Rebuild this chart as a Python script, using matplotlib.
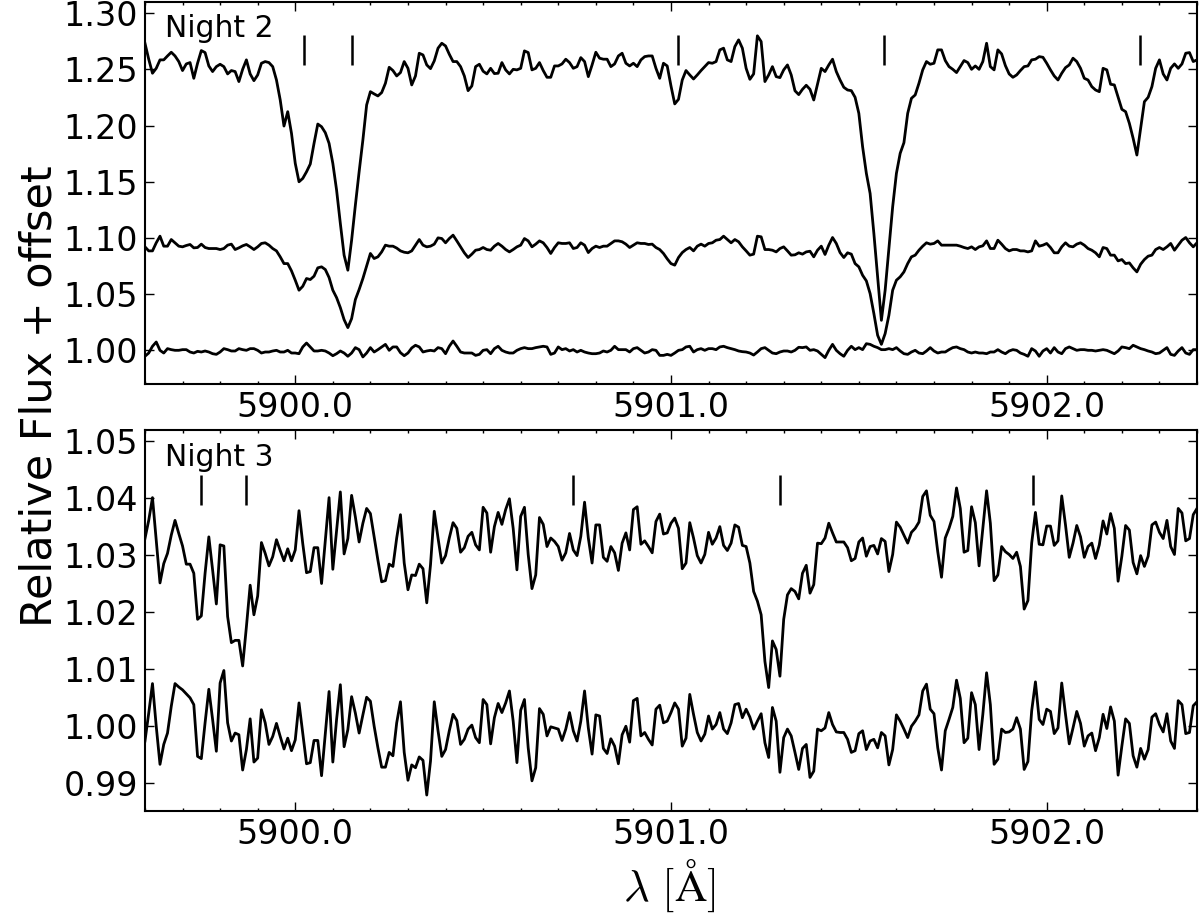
import numpy as np
import matplotlib
matplotlib.use('Agg')
import matplotlib.pyplot as plt
from matplotlib.ticker import MultipleLocator, FormatStrFormatter

plt.rcParams['mathtext.fontset'] = 'cm'
plt.rcParams['font.family'] = ['DejaVu Sans']

# wavelength grid (0.01 A per pixel)
wl = np.linspace(5899.60, 5902.40, 281)

# Night 2: observed spectrum (offset), second spectrum (offset), residual
n2_top = [
    1.2733, 1.2591, 1.2466, 1.2510, 1.2585, 1.2585, 1.2620, 1.2653, 1.2620, 1.2570,
    1.2490, 1.2549, 1.2561, 1.2421, 1.2555, 1.2668, 1.2650, 1.2531, 1.2481, 1.2525,
    1.2546, 1.2525, 1.2460, 1.2490, 1.2481, 1.2392, 1.2501, 1.2585, 1.2460, 1.2400,
    1.2451, 1.2555, 1.2570, 1.2561, 1.2525, 1.2406, 1.2228, 1.1996, 1.2124, 1.1931,
    1.1664, 1.1500, 1.1530, 1.1589, 1.1658, 1.1842, 1.2014, 1.1990, 1.1937, 1.1842,
    1.1664, 1.1426, 1.1129, 1.0847, 1.0713, 1.0980, 1.1292, 1.1589, 1.1872, 1.2184,
    1.2302, 1.2282, 1.2264, 1.2294, 1.2377, 1.2519, 1.2490,
    1.2442, 1.2472, 1.2570,
    1.2510, 1.2362, 1.2442, 1.2644, 1.2629, 1.2540, 1.2507, 1.2576, 1.2689, 1.2733,
    1.2709, 1.2635, 1.2570, 1.2570, 1.2525, 1.2442, 1.2311, 1.2353, 1.2525, 1.2546,
    1.2484, 1.2460, 1.2510, 1.2463, 1.2466, 1.2561, 1.2496, 1.2460, 1.2501, 1.2496,
    1.2510, 1.2665, 1.2650, 1.2496, 1.2510, 1.2561, 1.2490, 1.2430, 1.2430, 1.2531,
    1.2531, 1.2549, 1.2591, 1.2561, 1.2510, 1.2525, 1.2605, 1.2570, 1.2436, 1.2540,
    1.2653, 1.2600, 1.2591, 1.2591, 1.2525, 1.2549, 1.2620, 1.2644, 1.2555, 1.2531,
    1.2555, 1.2525, 1.2585, 1.2614, 1.2620, 1.2620, 1.2510, 1.2421, 1.2555, 1.2531,
    1.2353, 1.2193, 1.2234, 1.2406, 1.2490, 1.2451, 1.2415, 1.2451, 1.2490, 1.2525,
    1.2561, 1.2555, 1.2570, 1.2674, 1.2689, 1.2585, 1.2570, 1.2703, 1.2763, 1.2689,
    1.2510, 1.2412, 1.2460, 1.2799, 1.2748, 1.2392, 1.2451, 1.2525, 1.2436, 1.2427,
    1.2496, 1.2540, 1.2451,
    1.2310, 1.2276,
    1.2323, 1.2359, 1.2323, 1.2228, 1.2371,
    1.2510, 1.2481, 1.2540, 1.2591, 1.2481, 1.2406, 1.2341, 1.2317, 1.2311, 1.2252,
    1.2109, 1.1812, 1.1575, 1.1396, 1.1040, 1.0654, 1.0267, 1.0535, 1.0906, 1.1277,
    1.1575, 1.1753, 1.1848, 1.2109, 1.2243, 1.2273, 1.2377, 1.2496, 1.2570, 1.2546,
    1.2555, 1.2674, 1.2674, 1.2579, 1.2525, 1.2501, 1.2472, 1.2525, 1.2579, 1.2561,
    1.2501, 1.2531, 1.2501, 1.2570, 1.2733, 1.2525, 1.2496, 1.2674, 1.2638, 1.2534,
    1.2460, 1.2430, 1.2451, 1.2490, 1.2525, 1.2531, 1.2585, 1.2591, 1.2614, 1.2608,
    1.2555, 1.2496, 1.2442, 1.2406, 1.2466, 1.2516, 1.2540, 1.2600, 1.2570, 1.2510,
    1.2421, 1.2406, 1.2347, 1.2317, 1.2302, 1.2510, 1.2496, 1.2368, 1.2362, 1.2252,
    1.2145, 1.2124, 1.2020, 1.1887, 1.1738, 1.1976, 1.2213, 1.2252, 1.2347, 1.2510,
    1.2585, 1.2460, 1.2406, 1.2510, 1.2549, 1.2510, 1.2549, 1.2644, 1.2650, 1.2570, 1.2585,
]

n2_mid = [
    1.0921, 1.0885, 1.0885, 1.0957, 1.1016, 1.0927, 1.0927, 1.0986, 1.0957, 1.0927,
    1.0921, 1.0933, 1.0942, 1.0912, 1.0915, 1.0945, 1.0915, 1.0906, 1.0906, 1.0906,
    1.0897, 1.0906, 1.0936, 1.0945, 1.0897, 1.0912, 1.0930, 1.0942, 1.0921, 1.0897,
    1.0921, 1.0951, 1.0957, 1.0936, 1.0906, 1.0885, 1.0832, 1.0772, 1.0772, 1.0707,
    1.0624, 1.0535, 1.0570, 1.0639, 1.0630, 1.0660, 1.0734, 1.0743, 1.0719, 1.0648,
    1.0535, 1.0469, 1.0380, 1.0273, 1.0202, 1.0282, 1.0452, 1.0541, 1.0639, 1.0749,
    1.0862, 1.0817, 1.0832, 1.0876, 1.0936, 1.0927, 1.0927,
    1.0910, 1.0885, 1.0873,
    1.0868, 1.0885, 1.0936, 1.0986, 1.0936, 1.0921, 1.0927, 1.0945, 1.1001, 1.0995,
    1.0957, 1.0995, 1.1025, 1.0974, 1.0921, 1.0868, 1.0826, 1.0856, 1.0891, 1.0897,
    1.0915, 1.0897, 1.0891, 1.0927, 1.0951, 1.0927, 1.0897, 1.0876, 1.0897, 1.0921,
    1.0936, 1.0995, 1.0974, 1.0921, 1.0945, 1.0974, 1.0957, 1.0915, 1.0862, 1.0915,
    1.0957, 1.0951, 1.0951, 1.0957, 1.0906, 1.0915, 1.0957, 1.0936, 1.0870, 1.0906,
    1.0927, 1.0915, 1.0927, 1.0927, 1.0951, 1.0974, 1.0974, 1.0966, 1.0945, 1.0915,
    1.0936, 1.0957, 1.0951, 1.0951, 1.0942, 1.0945, 1.0915, 1.0897, 1.0862, 1.0814,
    1.0772, 1.0758, 1.0826, 1.0870, 1.0897, 1.0915, 1.0885, 1.0927, 1.0945, 1.0927,
    1.0951, 1.0957, 1.0980, 1.0986, 1.1016, 1.0986, 1.0957, 1.0986, 1.0966, 1.0921,
    1.0885, 1.0847, 1.0856, 1.1016, 1.1010, 1.0897, 1.0897, 1.0891, 1.0876, 1.0906,
    1.0921, 1.0885, 1.0847,
    1.0850, 1.0868,
    1.0856, 1.0876, 1.0882, 1.0832, 1.0891,
    1.0927, 1.0853, 1.0936, 1.1004, 1.0951, 1.0870, 1.0826, 1.0868, 1.0856, 1.0772,
    1.0743, 1.0668, 1.0618, 1.0505, 1.0327, 1.0134, 1.0053, 1.0149, 1.0312, 1.0535,
    1.0624, 1.0654, 1.0698, 1.0772, 1.0832, 1.0847, 1.0891, 1.0927, 1.0957, 1.0945,
    1.0951, 1.0974, 1.0936, 1.0936, 1.0936, 1.0936, 1.0936, 1.0927, 1.0915, 1.0906,
    1.0921, 1.0897, 1.0921, 1.0930, 1.0974, 1.0906, 1.0906, 1.0980, 1.0945, 1.0906,
    1.0885, 1.0897, 1.0897, 1.0885, 1.0885, 1.0876, 1.0885, 1.0974, 1.0927, 1.0936,
    1.0951, 1.0915, 1.0868, 1.0868, 1.0921, 1.0957, 1.0927, 1.0921, 1.0945, 1.0957,
    1.0936, 1.0906, 1.0891, 1.0868, 1.0832, 1.0915, 1.0906, 1.0847, 1.0847, 1.0796,
    1.0808, 1.0772, 1.0778, 1.0734, 1.0698, 1.0766, 1.0808, 1.0838, 1.0847, 1.0897,
    1.0915, 1.0897, 1.0921, 1.0951, 1.0891, 1.0936, 1.0980, 1.1004, 1.0957, 1.0921, 1.0957,
]

n2_res = [
    0.9947, 0.9976, 1.0036, 1.0074, 1.0000, 0.9976, 1.0015, 1.0006, 1.0000, 1.0000,
    1.0006, 1.0006, 0.9985, 0.9976, 0.9991, 0.9985, 0.9994, 0.9985, 0.9970, 0.9964,
    0.9985, 1.0015, 1.0006, 0.9994, 0.9994, 1.0015, 1.0006, 1.0000, 1.0015, 1.0015,
    1.0000, 0.9976, 0.9985, 0.9985, 0.9994, 1.0000, 0.9985, 0.9985, 1.0000, 0.9976,
    0.9976, 0.9970, 1.0030, 1.0065, 1.0030, 0.9994, 0.9994, 1.0000, 0.9994, 0.9976,
    0.9952, 0.9970, 0.9994, 0.9976, 0.9947, 0.9976, 1.0024, 1.0006, 0.9941, 0.9976,
    1.0024, 0.9985, 1.0006, 1.0030, 1.0053, 1.0000, 1.0030,
    1.0030, 0.9979, 0.9952,
    0.9976, 1.0021, 1.0045, 1.0030, 0.9985, 0.9994, 1.0000, 0.9994, 1.0024, 1.0015,
    0.9970, 1.0036, 1.0083, 1.0036, 0.9985, 0.9976, 0.9976, 0.9976, 0.9955, 0.9964,
    1.0000, 1.0006, 0.9970, 1.0015, 1.0036, 1.0000, 0.9985, 0.9976, 0.9976, 1.0000,
    1.0015, 1.0024, 1.0015, 1.0015, 1.0024, 1.0030, 1.0036, 1.0030, 0.9964, 0.9976,
    1.0030, 1.0006, 1.0015, 0.9994, 1.0006, 0.9985, 1.0000, 0.9985, 0.9976, 0.9970,
    0.9970, 0.9976, 0.9994, 0.9985, 1.0000, 1.0036, 1.0006, 1.0006, 1.0006, 0.9985,
    1.0015, 1.0024, 1.0000, 0.9976, 0.9985, 1.0006, 1.0000, 0.9955, 0.9955, 0.9964,
    0.9955, 0.9976, 1.0000, 1.0006, 1.0030, 1.0036, 0.9985, 1.0006, 1.0015, 1.0000,
    1.0015, 1.0015, 1.0006, 1.0030, 1.0036, 1.0024, 1.0015, 1.0006, 0.9994, 0.9988,
    0.9985, 0.9976, 0.9958, 0.9985, 1.0015, 1.0024, 1.0000, 0.9976, 0.9970, 0.9985,
    0.9994, 0.9994, 0.9985,
    1.0000, 1.0027,
    1.0024, 1.0030, 1.0000, 1.0006, 0.9994,
    0.9964, 0.9935, 1.0000, 1.0053, 1.0000, 0.9970, 0.9947, 1.0000, 1.0036, 1.0006,
    1.0024, 1.0006, 1.0059, 1.0053, 1.0036, 1.0024, 1.0006, 1.0006, 1.0015, 1.0006,
    1.0024, 0.9994, 0.9970, 0.9964, 0.9985, 1.0000, 0.9976, 0.9970, 0.9994, 1.0024,
    0.9994, 0.9976, 0.9985, 0.9985, 1.0006, 1.0024, 1.0030, 1.0015, 1.0006, 0.9985,
    0.9976, 0.9985, 0.9976, 0.9976, 0.9970, 0.9985, 0.9985, 1.0006, 0.9985, 0.9970,
    0.9994, 1.0006, 1.0000, 0.9976, 0.9964, 0.9947, 1.0015, 0.9994, 0.9947, 0.9994,
    1.0015, 0.9976, 1.0024, 0.9985, 0.9970, 1.0015, 1.0030, 1.0015, 1.0000, 1.0006,
    1.0006, 1.0000, 1.0000, 0.9994, 1.0000, 1.0006, 1.0000, 0.9985, 0.9970, 0.9994,
    1.0030, 1.0024, 1.0015, 1.0045, 1.0030, 1.0015, 1.0006, 0.9994, 0.9985, 0.9970,
    0.9976, 1.0000, 1.0024, 0.9964, 0.9955, 0.9994, 1.0024, 0.9976, 0.9964, 1.0006, 1.0006,
]

# Night 3: observed spectrum (offset) and residual
n3_obs = [
    1.0329, 1.0361, 1.0401, 1.0326, 1.0251, 1.0285, 1.0303, 1.0335, 1.0361, 1.0338,
    1.0316, 1.0284, 1.0284, 1.0268, 1.0187, 1.0193, 1.0268, 1.0332, 1.0274, 1.0214,
    1.0318, 1.0316, 1.0192, 1.0146, 1.0150, 1.0150, 1.0105, 1.0174, 1.0247, 1.0195,
    1.0228, 1.0322, 1.0303, 1.0281, 1.0297, 1.0327, 1.0308, 1.0290, 1.0311, 1.0290,
    1.0309, 1.0378, 1.0320, 1.0269, 1.0271, 1.0313, 1.0313, 1.0250, 1.0326, 1.0401,
    1.0275, 1.0344, 1.0411, 1.0302, 1.0329, 1.0405, 1.0367, 1.0323, 1.0356, 1.0382,
    1.0373, 1.0332, 1.0291, 1.0253, 1.0255, 1.0284, 1.0280,
    1.0330, 1.0371, 1.0286,
    1.0239, 1.0265, 1.0264, 1.0284, 1.0276, 1.0216, 1.0283, 1.0377, 1.0330, 1.0286,
    1.0299, 1.0330, 1.0357, 1.0347, 1.0305, 1.0313, 1.0333, 1.0340, 1.0318, 1.0309,
    1.0384, 1.0374, 1.0305, 1.0350, 1.0375, 1.0354, 1.0380, 1.0399, 1.0347, 1.0274,
    1.0368, 1.0384, 1.0301, 1.0241, 1.0265, 1.0366, 1.0354, 1.0315, 1.0330, 1.0324,
    1.0315, 1.0291, 1.0304, 1.0338, 1.0309, 1.0299, 1.0333, 1.0393, 1.0330, 1.0286,
    1.0353, 1.0353, 1.0296, 1.0289, 1.0315, 1.0304, 1.0273, 1.0321, 1.0339, 1.0309,
    1.0380, 1.0385, 1.0319, 1.0325, 1.0315, 1.0304, 1.0359, 1.0372, 1.0337, 1.0339,
    1.0356, 1.0365, 1.0347, 1.0276, 1.0286, 1.0357, 1.0330, 1.0299, 1.0286, 1.0301,
    1.0340, 1.0319, 1.0330, 1.0350, 1.0317, 1.0308, 1.0321, 1.0353, 1.0349, 1.0317,
    1.0315, 1.0286, 1.0236, 1.0219, 1.0195, 1.0113, 1.0067, 1.0149, 1.0134, 1.0087,
    1.0187, 1.0230, 1.0241, 1.0236, 1.0223, 1.0268, 1.0282, 1.0233, 1.0248, 1.0321,
    1.0320, 1.0330, 1.0356, 1.0339, 1.0323, 1.0323, 1.0323, 1.0313, 1.0290, 1.0294,
    1.0323, 1.0330, 1.0298, 1.0315, 1.0317, 1.0302, 1.0329, 1.0324, 1.0271, 1.0301,
    1.0358, 1.0349, 1.0335, 1.0321, 1.0340, 1.0347, 1.0358, 1.0403, 1.0413, 1.0370,
    1.0359, 1.0306, 1.0261, 1.0330, 1.0347, 1.0368, 1.0418, 1.0382, 1.0305, 1.0308,
    1.0385, 1.0357, 1.0281, 1.0347, 1.0413, 1.0356, 1.0255, 1.0265, 1.0315, 1.0306,
    1.0301, 1.0294, 1.0305, 1.0280, 1.0205, 1.0220, 1.0321, 1.0375, 1.0319, 1.0318,
    1.0351, 1.0351, 1.0317, 1.0325, 1.0404, 1.0353, 1.0296, 1.0321, 1.0352, 1.0332,
    1.0296, 1.0315, 1.0321, 1.0294, 1.0318, 1.0360, 1.0337, 1.0373, 1.0347, 1.0254,
    1.0298, 1.0352, 1.0344, 1.0287, 1.0267, 1.0299, 1.0280, 1.0298, 1.0353, 1.0358,
    1.0340, 1.0329, 1.0361, 1.0315, 1.0301, 1.0382, 1.0374, 1.0325, 1.0329, 1.0371, 1.0382,
]

n3_res = [
    0.9973, 1.0022, 1.0074, 0.9999, 0.9932, 0.9967, 0.9987, 1.0034, 1.0074, 1.0068,
    1.0063, 1.0056, 1.0049, 1.0037, 0.9946, 0.9942, 1.0005, 1.0064, 1.0011, 0.9955,
    1.0075, 1.0097, 1.0005, 0.9973, 0.9987, 0.9984, 0.9922, 0.9958, 1.0012, 0.9936,
    0.9943, 1.0028, 1.0005, 0.9967, 0.9981, 1.0004, 0.9981, 0.9959, 0.9978, 0.9956,
    0.9975, 1.0040, 0.9987, 0.9933, 0.9935, 0.9974, 0.9974, 0.9912, 0.9987, 1.0060,
    0.9936, 1.0011, 1.0072, 0.9963, 0.9993, 1.0051, 1.0022, 0.9987, 1.0019, 1.0050,
    1.0043, 0.9999, 0.9961, 0.9927, 0.9927, 0.9953, 0.9947,
    1.0005, 1.0042, 0.9953,
    0.9904, 0.9931, 0.9926, 0.9945, 0.9939, 0.9878, 0.9938, 1.0042, 0.9991, 0.9946,
    0.9958, 0.9991, 1.0020, 1.0009, 0.9967, 0.9976, 0.9994, 1.0001, 0.9979, 0.9970,
    1.0046, 1.0037, 0.9968, 1.0014, 1.0039, 1.0023, 1.0040, 1.0061, 1.0008, 0.9935,
    1.0027, 1.0046, 0.9961, 0.9903, 0.9926, 1.0030, 1.0020, 0.9982, 0.9998, 0.9996,
    0.9994, 0.9974, 0.9994, 1.0023, 0.9991, 0.9973, 1.0008, 1.0061, 0.9996, 0.9950,
    1.0019, 1.0017, 0.9960, 0.9951, 0.9977, 0.9964, 0.9933, 0.9984, 0.9999, 0.9971,
    1.0044, 1.0048, 0.9982, 0.9988, 0.9976, 0.9966, 1.0029, 1.0036, 1.0005, 1.0008,
    1.0023, 1.0040, 1.0029, 0.9964, 0.9978, 1.0055, 1.0020, 0.9988, 0.9973, 0.9985,
    1.0017, 0.9994, 1.0002, 1.0023, 0.9994, 0.9986, 1.0005, 1.0037, 1.0039, 1.0014,
    1.0029, 1.0015, 0.9994, 1.0008, 1.0021, 0.9970, 0.9944, 1.0032, 1.0008, 0.9918,
    0.9979, 0.9994, 0.9982, 0.9953, 0.9923, 0.9960, 0.9967, 0.9909, 0.9920, 0.9994,
    0.9991, 0.9996, 1.0023, 1.0002, 0.9989, 0.9988, 0.9988, 0.9976, 0.9953, 0.9956,
    0.9986, 0.9991, 0.9958, 0.9973, 0.9976, 0.9961, 0.9988, 0.9982, 0.9931, 0.9958,
    1.0019, 1.0008, 0.9994, 0.9979, 0.9999, 1.0008, 1.0019, 1.0061, 1.0073, 1.0029,
    1.0021, 0.9961, 0.9922, 0.9991, 1.0011, 1.0032, 1.0080, 1.0048, 0.9970, 0.9978,
    1.0058, 1.0037, 0.9958, 1.0020, 1.0093, 1.0037, 0.9932, 0.9941, 0.9994, 0.9988,
    0.9989, 0.9994, 1.0014, 0.9994, 0.9923, 0.9937, 1.0026, 1.0077, 1.0011, 1.0002,
    1.0029, 1.0025, 0.9986, 0.9996, 1.0075, 1.0020, 0.9968, 0.9996, 1.0025, 1.0004,
    0.9964, 0.9982, 0.9987, 0.9956, 0.9979, 1.0020, 0.9995, 1.0033, 1.0008, 0.9913,
    0.9964, 1.0012, 1.0004, 0.9947, 0.9927, 0.9960, 0.9941, 0.9958, 1.0015, 1.0021,
    1.0002, 0.9989, 1.0021, 0.9973, 0.9960, 1.0044, 1.0037, 0.9986, 0.9988, 1.0035, 1.0042,
]

# line positions marked above the spectra
n2_lines = [5900.023, 5900.150, 5901.018, 5901.568, 5902.249]
n3_lines = [5899.749, 5899.869, 5900.739, 5901.289, 5901.964]

fig = plt.figure(figsize=(12, 9.15), dpi=100)
ax1 = fig.add_axes([0.1208, 0.5803, 0.8767, 0.4175])
ax2 = fig.add_axes([0.1208, 0.1137, 0.8767, 0.4164])

for spec in (n2_top, n2_mid, n2_res):
    ax1.plot(wl, spec, color='k', lw=2.0)
ax1.vlines(n2_lines, 1.254, 1.281, color='k', lw=1.8)
ax1.set_ylim(0.97, 1.31)
ax1.yaxis.set_major_locator(MultipleLocator(0.05))
ax1.yaxis.set_major_formatter(FormatStrFormatter('%.2f'))
ax1.text(0.019, 0.968, 'Night 2', transform=ax1.transAxes, fontsize=21.5,
         ha='left', va='top')

for spec in (n3_obs, n3_res):
    ax2.plot(wl, spec, color='k', lw=2.0)
ax2.vlines(n3_lines, 1.0388, 1.0440, color='k', lw=1.8)
ax2.set_ylim(0.985, 1.052)
ax2.yaxis.set_major_locator(MultipleLocator(0.01))
ax2.yaxis.set_major_formatter(FormatStrFormatter('%.2f'))
ax2.text(0.019, 0.965, 'Night 3', transform=ax2.transAxes, fontsize=21.5,
         ha='left', va='top')

for ax in (ax1, ax2):
    ax.set_xlim(5899.6, 5902.4)
    ax.xaxis.set_major_locator(MultipleLocator(1.0))
    ax.xaxis.set_minor_locator(MultipleLocator(0.1))
    ax.xaxis.set_major_formatter(FormatStrFormatter('%.1f'))
    ax.tick_params(which='both', direction='in', top=True, right=True,
                   labelsize=24, width=1.0, pad=5)
    ax.tick_params(which='major', length=6.5)
    ax.tick_params(which='minor', length=2.5)
    for sp in ax.spines.values():
        sp.set_linewidth(1.5)

fig.text(0.033, 0.567, 'Relative Flux + offset', rotation=90, fontsize=31,
         ha='center', va='center')
fig.text(0.558, 0.033, r'$\lambda\ [\mathrm{\AA}]$', fontsize=32,
         ha='center', va='center')

fig.savefig('out.png', dpi=100)
